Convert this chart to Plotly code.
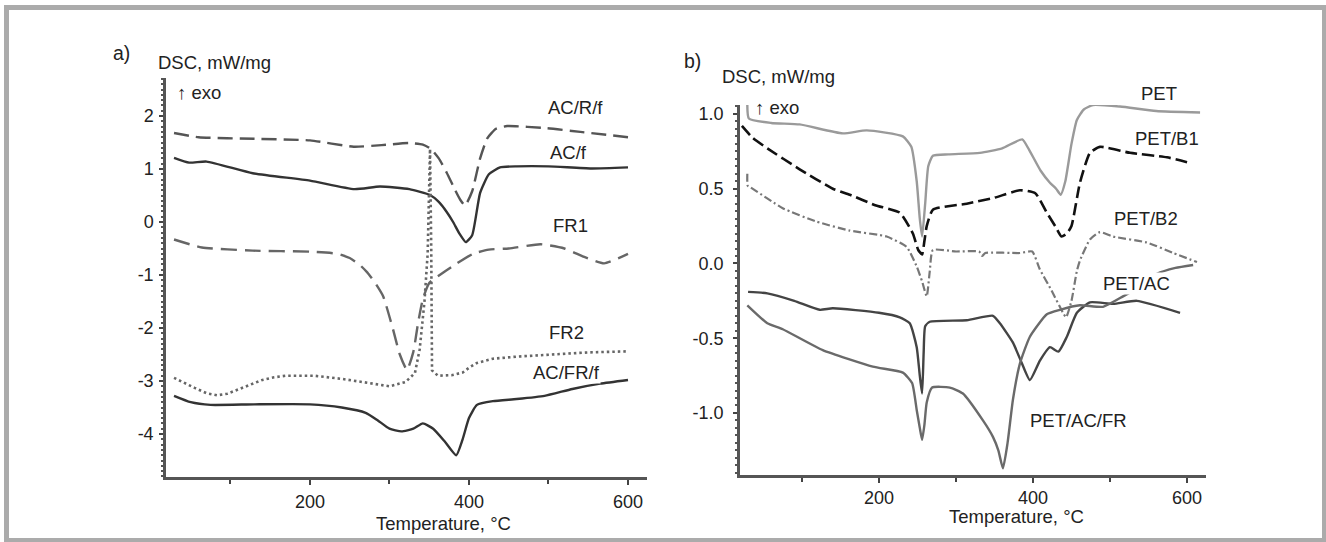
import plotly.graph_objects as go

W, H = 1326, 542
FONT = "Liberation Sans, Arial, sans-serif"
TXT = "#222222"

# ---------------- Panel a data ----------------
acrf_T = [29, 60, 130, 200, 255, 290, 325, 342, 352, 362, 372, 382, 389, 395, 404, 414, 423, 434, 448, 498, 540, 600]
acrf_v = [1.68, 1.60, 1.57, 1.54, 1.42, 1.45, 1.49, 1.46, 1.38, 1.20, 0.93, 0.62, 0.42, 0.31, 0.58, 1.20, 1.58, 1.76, 1.81, 1.77, 1.70, 1.60]

acf_T = [29, 48, 70, 128, 200, 256, 288, 325, 351, 362, 372, 380, 388, 396, 404, 414, 425, 439, 460, 500, 554, 600]
acf_v = [1.21, 1.12, 1.14, 0.92, 0.78, 0.62, 0.67, 0.62, 0.51, 0.38, 0.19, 0.00, -0.22, -0.38, -0.25, 0.55, 0.90, 1.03, 1.05, 1.05, 1.01, 1.03]

fr1_T = [29, 64, 128, 200, 235, 250, 262, 272, 282, 292, 304, 313, 322, 330, 336, 342, 350, 365, 385, 405, 425, 450, 490, 520, 545, 570, 600]
fr1_v = [-0.33, -0.48, -0.54, -0.56, -0.60, -0.68, -0.80, -0.95, -1.15, -1.40, -2.00, -2.50, -2.79, -2.45, -1.90, -1.45, -1.15, -0.98, -0.78, -0.60, -0.52, -0.50, -0.42, -0.50, -0.66, -0.78, -0.60]

fr2_T = [29, 42, 55, 70, 83, 96, 110, 125, 140, 155, 170, 205, 240, 275, 300, 320, 332, 338, 344, 348, 350, 351, 352.5, 353.5, 361, 378, 392, 401, 410, 430, 460, 500, 550, 600]
fr2_v = [-2.94, -3.04, -3.13, -3.23, -3.27, -3.24, -3.16, -3.06, -2.98, -2.93, -2.90, -2.90, -2.96, -3.04, -3.10, -3.02, -2.85, -2.40, -1.50, -0.60, 0.50, 1.38, -0.50, -2.80, -2.90, -2.89, -2.84, -2.74, -2.66, -2.58, -2.54, -2.50, -2.46, -2.44]

acfrf_T = [29, 50, 75, 130, 200, 240, 270, 285, 300, 315, 330, 342, 355, 370, 384, 392, 400, 410, 430, 460, 495, 530, 565, 600]
acfrf_v = [-3.28, -3.40, -3.45, -3.44, -3.44, -3.50, -3.60, -3.74, -3.90, -3.95, -3.90, -3.80, -3.90, -4.15, -4.40, -4.10, -3.70, -3.45, -3.38, -3.34, -3.28, -3.15, -3.05, -2.98]

a_yticks = [-4, -3, -2, -1, 0, 1, 2]
a_yticktext = ["-4", "-3", "-2", "-1", "0", "1", "2"]
x_ticks = [200, 400, 600]
x_ticktext = ["200", "400", "600"]

# ---------------- Panel b data ----------------
pet_T = [29, 31, 60, 97, 153, 184, 231, 242, 249, 253, 256, 260, 264, 270, 290, 331, 360, 386, 395, 410, 422, 430, 436, 442, 450, 457, 466, 478, 513, 560, 617]
pet_v = [1.06, 0.97, 0.94, 0.93, 0.87, 0.89, 0.85, 0.78, 0.55, 0.30, 0.18, 0.40, 0.65, 0.72, 0.73, 0.74, 0.77, 0.83, 0.76, 0.62, 0.54, 0.50, 0.46, 0.55, 0.80, 0.96, 1.03, 1.06, 1.05, 1.02, 1.01]

b1_T = [22, 36, 55, 97, 140, 162, 195, 227, 244, 251, 256, 259, 262, 270, 314, 350, 383, 403, 418, 430, 437, 444, 450, 461, 474, 487, 526, 574, 606]
b1_v = [0.92, 0.84, 0.77, 0.63, 0.50, 0.46, 0.39, 0.34, 0.20, 0.09, 0.06, 0.15, 0.25, 0.36, 0.40, 0.44, 0.49, 0.47, 0.34, 0.24, 0.18, 0.20, 0.25, 0.54, 0.74, 0.78, 0.74, 0.71, 0.67]

b2_T = [29, 29.5, 33, 75, 119, 162, 210, 236, 249, 256, 262, 266, 270, 300, 330, 334, 338, 383, 399, 409, 424, 439, 443, 450, 457, 461, 474, 487, 504, 548, 582, 613]
b2_v = [0.60, 0.52, 0.51, 0.37, 0.28, 0.22, 0.18, 0.11, -0.02, -0.12, -0.22, -0.05, 0.09, 0.08, 0.08, 0.05, 0.07, 0.07, 0.08, -0.04, -0.18, -0.33, -0.36, -0.25, -0.05, 0.02, 0.16, 0.21, 0.18, 0.14, 0.07, 0.01]

petac_T = [30, 55, 90, 123, 140, 200, 227, 240, 249, 253, 256, 258, 260, 266, 314, 348, 357, 374, 385, 396, 409, 422, 433, 444, 457, 474, 504, 535, 591]
petac_v = [-0.19, -0.20, -0.25, -0.31, -0.30, -0.33, -0.36, -0.40, -0.56, -0.75, -0.87, -0.60, -0.42, -0.39, -0.38, -0.35, -0.40, -0.53, -0.66, -0.78, -0.65, -0.56, -0.59, -0.49, -0.33, -0.26, -0.27, -0.25, -0.33]

petacfr_T = [29, 55, 75, 127, 192, 231, 243, 249, 253, 256, 259, 262, 269, 292, 309, 335, 348, 355, 361, 367, 374, 383, 396, 418, 435, 461, 491, 517, 540, 561, 585, 608]
petacfr_v = [-0.28, -0.40, -0.44, -0.58, -0.69, -0.73, -0.80, -0.98, -1.10, -1.18, -1.08, -0.93, -0.83, -0.83, -0.87, -1.05, -1.16, -1.25, -1.37, -1.20, -0.91, -0.67, -0.49, -0.34, -0.31, -0.28, -0.29, -0.22, -0.15, -0.07, -0.03, -0.01]

b_yticks = [-1.0, -0.5, 0.0, 0.5, 1.0]
b_yticktext = ["-1.0", "-0.5", "0.0", "0.5", "1.0"]

# ---------------- Figure ----------------
def px(x):
    return x / W

def py(y):
    return 1 - y / H

fig = go.Figure()

def line(T, v, color, width, dash, xa, ya, shape="spline"):
    fig.add_trace(go.Scatter(x=T, y=v, mode="lines", xaxis=xa, yaxis=ya,
                             line=dict(color=color, width=width, dash=dash, shape=shape,
                                       smoothing=0.5 if shape == "spline" else None),
                             showlegend=False, hoverinfo="skip"))

# panel a
line(acrf_T, acrf_v, "#555555", 2.4, "15px,7px", "x", "y")
line(acf_T, acf_v, "#333333", 2.4, "solid", "x", "y")
line(fr1_T, fr1_v, "#666666", 2.4, "16px,8px", "x", "y")
line(fr2_T, fr2_v, "#666666", 2.6, "2.5px,3px", "x", "y", shape="linear")
line(acfrf_T, acfrf_v, "#333333", 2.4, "solid", "x", "y")

# panel b
line(pet_T, pet_v, "#9a9a9a", 2.4, "solid", "x2", "y2")
line(b1_T, b1_v, "#111111", 2.6, "12px,5px", "x2", "y2")
line(b2_T, b2_v, "#777777", 2.2, "8px,3px,2px,3px", "x2", "y2")
line(petac_T, petac_v, "#444444", 2.4, "solid", "x2", "y2")
line(petacfr_T, petacfr_v, "#6a6a6a", 2.4, "solid", "x2", "y2")

axis_common = dict(showgrid=False, zeroline=False, showline=True, linecolor="#555555",
                   linewidth=2.5, ticks="outside", tickcolor="#444444", tickwidth=1.5,
                   tickfont=dict(family=FONT, size=18, color=TXT), fixedrange=True)

fig.update_layout(
    width=W, height=H,
    margin=dict(l=0, r=0, t=0, b=0),
    paper_bgcolor="white", plot_bgcolor="white",
    xaxis=dict(domain=[px(166), px(647)], range=[18.9, 623.9], anchor="y",
               tickvals=x_ticks, ticktext=x_ticktext, ticklen=5, ticklabelstandoff=2,
               minor=dict(dtick=100, tick0=0, ticks="outside", ticklen=4, tickcolor="#444444", tickwidth=1.5),
               **axis_common),
    yaxis=dict(domain=[py(477), py(78)], range=[-4.811, 2.717], anchor="x",
               tickvals=a_yticks, ticktext=a_yticktext, ticklen=4, ticklabelstandoff=2,
               minor=dict(dtick=0.1, tick0=0, ticks="outside", ticklen=2, tickcolor="#555555", tickwidth=1.5),
               **axis_common),
    xaxis2=dict(domain=[px(740), px(1206)], range=[19.5, 624.7], anchor="y2",
                tickvals=x_ticks, ticktext=x_ticktext, ticklen=5, ticklabelstandoff=0,
                minor=dict(dtick=100, tick0=0, ticks="outside", ticklen=4, tickcolor="#444444", tickwidth=1.5),
                **axis_common),
    yaxis2=dict(domain=[py(475), py(105)], range=[-1.415, 1.060], anchor="x2",
                tickvals=b_yticks, ticktext=b_yticktext, ticklen=4, ticklabelstandoff=6,
                minor=dict(dtick=0.05, tick0=0, ticks="outside", ticklen=2, tickcolor="#555555", tickwidth=1.5),
                **axis_common),
)

# outer grey frame
fig.add_shape(type="rect", xref="paper", yref="paper",
              x0=px(6.5), x1=px(1324.5), y0=py(540.5), y1=py(7.5),
              line=dict(color="#ababab", width=5), fillcolor="rgba(0,0,0,0)", layer="below")

def label(text, x, y, anchor="center", size=18.5, bg=None):
    fig.add_annotation(text=text, xref="paper", yref="paper", x=px(x), y=py(y),
                       xanchor=anchor, yanchor="middle", showarrow=False,
                       font=dict(family=FONT, size=size, color=TXT),
                       bgcolor=bg if bg else "rgba(0,0,0,0)", borderpad=0)

# panel a texts
label("a)", 121, 53, size=19.5)
label("DSC, mW/mg", 157, 62, anchor="left")
label("↑ exo", 176, 92, anchor="left")
label("AC/R/f", 575, 107)
label("AC/f", 568, 152)
label("FR1", 570, 225)
label("FR2", 566, 332)
label("AC/FR/f", 566, 372, bg="white")
label("Temperature, °C", 443, 523)

# panel b texts
label("b)", 692, 61, size=19.5)
label("DSC, mW/mg", 721, 77, anchor="left")
label("↑ exo", 754, 107, anchor="left", bg="white")
label("PET", 1159, 93)
label("PET/B1", 1167, 139)
label("PET/B2", 1146, 219, bg="white")
label("PET/AC", 1136, 283, bg="white")
label("PET/AC/FR", 1078, 420, bg="white")
label("Temperature, °C", 1016, 516)

fig.write_html("out.html", config={"displayModeBar": False},
               post_script="document.body.style.margin='0';document.body.style.overflow='hidden';")
